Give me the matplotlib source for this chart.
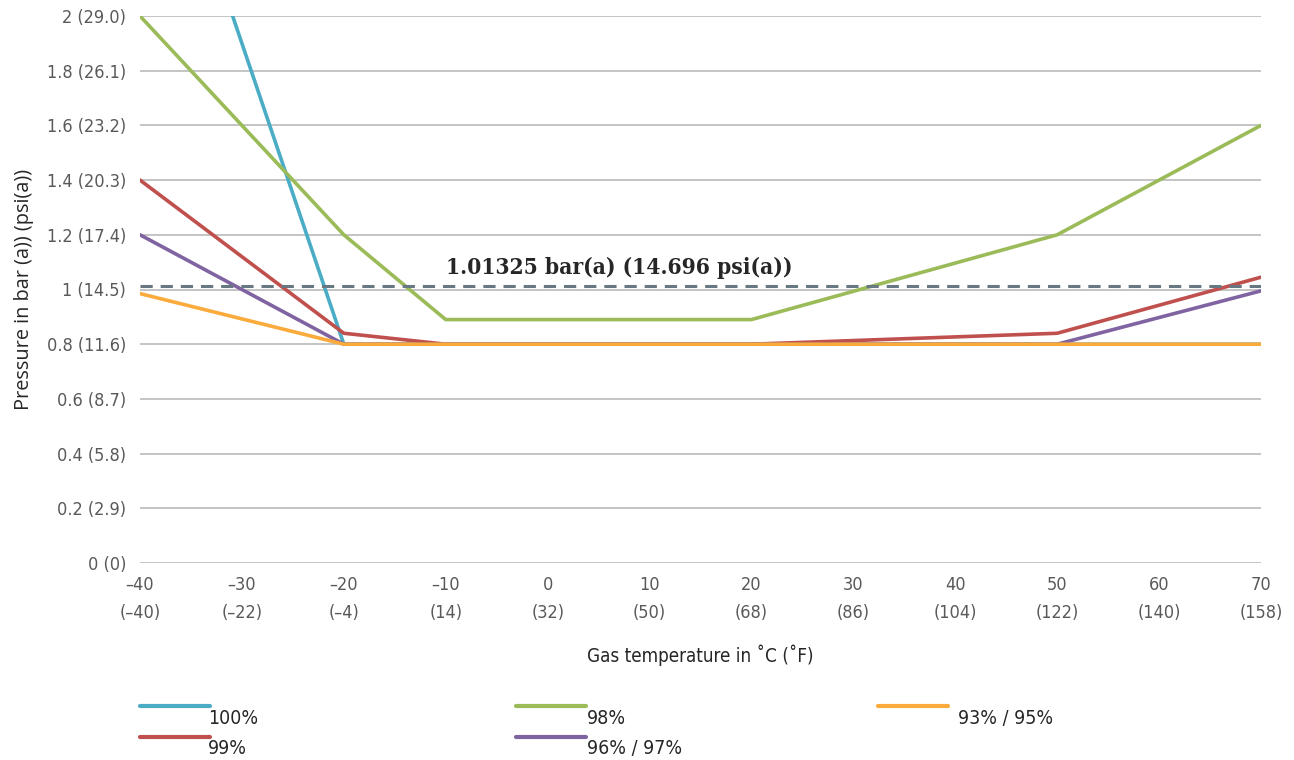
import matplotlib
matplotlib.use("Agg")
import matplotlib.pyplot as plt
from matplotlib.lines import Line2D

# data
temps_c = [-40, -30, -20, -10, 0, 10, 20, 30, 40, 50, 60, 70]
temps_f = [-40, -22, -4, 14, 32, 50, 68, 86, 104, 122, 140, 158]
y_ticks = [0, 0.2, 0.4, 0.6, 0.8, 1.0, 1.2, 1.4, 1.6, 1.8, 2.0]
y_tick_labels = ["0 (0)", "0.2 (2.9)", "0.4 (5.8)", "0.6 (8.7)", "0.8 (11.6)",
                 "1 (14.5)", "1.2 (17.4)", "1.4 (20.3)", "1.6 (23.2)",
                 "1.8 (26.1)", "2 (29.0)"]

x_100 = [-40, -20, 70]
p_100 = [3.0, 0.8, 0.8]
x_99 = [-40, -20, -10, 20, 50, 70]
p_99 = [1.4, 0.84, 0.8, 0.8, 0.84, 1.045]
x_98 = [-40, -20, -10, 20, 50, 70]
p_98 = [2.0, 1.2, 0.89, 0.89, 1.2, 1.6]
x_96 = [-40, -20, 50, 70]
p_96 = [1.2, 0.8, 0.8, 0.995]
x_93 = [-40, -20, 70]
p_93 = [0.985, 0.8, 0.8]
atm = 1.01325
atm_label = "1.01325 bar(a) (14.696 psi(a))"

series = [
    ("100%", x_100, p_100, "#4BACC6"),
    ("99%", x_99, p_99, "#C0504D"),
    ("98%", x_98, p_98, "#9BBB59"),
    ("96% / 97%", x_96, p_96, "#8064A2"),
    ("93% / 95%", x_93, p_93, "#FAAB3C"),
]

plt.rcParams['font.family'] = ['DejaVu Sans']
plt.rcParams['font.stretch'] = 'condensed'

W, H = 1294, 760
fig = plt.figure(figsize=(W / 100, H / 100), dpi=100)
ax = fig.add_axes([140 / W, 1 - 563 / H, (1261 - 140) / W, (563 - 16) / H])

for yv in y_ticks:
    ax.axhline(yv, color="#BFBFBF", lw=1.3, zorder=1)

for name, xs, ps, col in series:
    ax.plot(xs, ps, color=col, lw=2.6, solid_capstyle="round", zorder=3)

ax.axhline(atm, color="#687882", lw=2.2, linestyle=(0, (4, 2.6)), zorder=4)
ax.text(-10, 1.055, atm_label, family="DejaVu Serif", fontsize=16.3, weight="bold",
        color="#262626", va="baseline", ha="left", stretch="condensed")

ax.set_xlim(-40, 70)
ax.set_ylim(0, 2)
ax.set_xticks(temps_c)
ax.set_xticklabels([f"{c}\n({f})".replace("-", "\u2013") for c, f in zip(temps_c, temps_f)],
                   linespacing=1.75)
ax.set_yticks(y_ticks)
ax.set_yticklabels(y_tick_labels)
ax.tick_params(axis="both", length=0, labelsize=13, labelcolor="#595959")
ax.tick_params(axis="y", pad=10)
ax.tick_params(axis="x", pad=9)
for s in ax.spines.values():
    s.set_visible(False)

ax.set_ylabel("Pressure in bar (a)) (psi(a))", family="Open Sans", stretch="normal",
              fontsize=14.3, color="#262626", labelpad=9)
ax.set_xlabel("Gas temperature in \u02daC (\u02daF)", fontsize=13.5, color="#262626", labelpad=16)

# legend laid out by hand
leg_pos = [(140, 706), (140, 737), (516, 706), (516, 737), (878, 706)]
text_x = [208, 208, 587, 587, 958]
for (name, xs, ps, col), (lx, ly), tx in zip(series, leg_pos, text_x):
    fig.add_artist(Line2D([lx / W, (lx + 70) / W], [1 - ly / H, 1 - ly / H],
                          color=col, lw=3, solid_capstyle="round"))
    fig.text(tx / W, 1 - (ly + 12) / H, name, fontsize=14, color="#262626",
             va="center", ha="left")

fig.savefig("out.png", dpi=100)
